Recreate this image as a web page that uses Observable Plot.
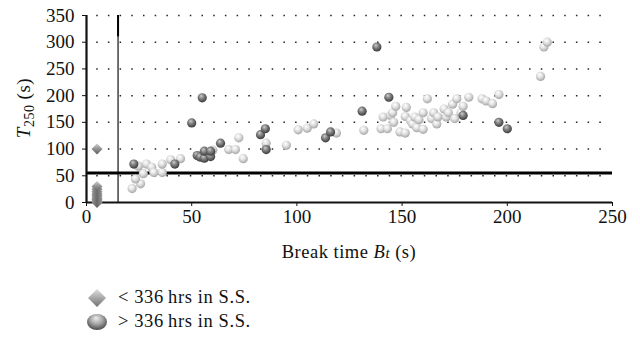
<!DOCTYPE html>
<html>
<head>
<meta charset="utf-8">
<script src="https://cdn.jsdelivr.net/npm/d3@7"></script>
<script src="https://cdn.jsdelivr.net/npm/@observablehq/plot@0.6"></script>
<style>
  body { margin: 0; background: #fff; font-family: "Liberation Serif", "DejaVu Serif", serif; }
  #chart svg { display: block; }
  #legend { position: relative; height: 77px; }
  .item { position: absolute; left: 86px; display: flex; align-items: center; font-size: 18.5px; letter-spacing: 0.6px; color: #111; }
  .item svg { margin-right: 10px; }
</style>
</head>
<body>
<div id="chart"></div>
<div id="legend"></div>
<script>
// Break time Bt (s) vs T250 (s)
// Specimens with < 336 hrs in S.S.
const under336 = [
  [5, 0], [5, 2], [5, 5], [5, 8], [5, 12], [5, 16], [5, 20], [5, 25], [5, 30], [5, 100]
];

// Specimens with > 336 hrs in S.S. (lighter group)
const over336Light = [
  [21.7, 26], [25.7, 35], [23.3, 44], [27, 54], [24.7, 68], [28.5, 72], [31, 66], [32, 56],
  [36, 56], [36, 72], [40, 80], [44.7, 82], [60, 98], [67.6, 99], [70.8, 99], [72.4, 121],
  [74.5, 82], [85.4, 111], [95, 107], [100.6, 136], [104.9, 139], [108, 147], [118.8, 130],
  [131.8, 135], [140, 138], [143, 138], [141, 160], [144.5, 163], [145.5, 168], [146, 150],
  [147, 180], [149, 132], [151.5, 130], [151.5, 161], [152, 178], [154, 153], [155, 147],
  [156, 160], [157, 140], [158, 155], [160, 137], [160, 168], [162, 194], [164, 157],
  [165, 168], [166.5, 147], [167, 160], [170, 175], [171, 160], [172, 168], [174, 184],
  [175, 157], [176, 194], [178, 168], [179, 180], [181.7, 197], [188, 194], [190, 190],
  [193, 185], [196, 202], [215.8, 236], [217.4, 291], [219, 300]
];

// Specimens with > 336 hrs in S.S. (darker group)
const over336Dark = [
  [22.5, 72], [42, 72], [50, 149], [55, 196], [52.6, 88], [54, 85], [56, 83], [56, 96],
  [59, 86], [59, 96], [63.7, 111], [82.7, 127], [85, 138], [85.4, 99], [113.6, 121],
  [116, 132], [131, 171], [138, 291], [143.7, 197], [179, 163], [196, 150], [200, 138]
];

const xTicks = [0, 50, 100, 150, 200, 250];
const yTicks = [0, 50, 100, 150, 200, 250, 300, 350];
const breakLimit = 15;   // vertical reference line (s)
const t250Limit = 55;    // horizontal reference line (s)

const plot = Plot.plot({
  width: 640,
  height: 268,
  marginLeft: 86,
  marginRight: 28,
  marginTop: 15,
  marginBottom: 66,
  x: { domain: [0, 250], ticks: xTicks, tickSize: 4, tickPadding: 3, label: null },
  y: { domain: [0, 350], ticks: yTicks, tickSize: 4, tickPadding: 8, label: null },
  style: { fontFamily: "Liberation Serif, serif", fontSize: "19px", color: "#111", background: "#fff" },
  marks: [
    Plot.ruleY(yTicks.filter(d => d > 0), {
      x1: 0, x2: 246, stroke: "#222", strokeWidth: 1.5,
      strokeDasharray: "1.5 10.2", strokeDashoffset: -10.2
    }),
    Plot.ruleX([breakLimit], { y1: 0, y2: 350, stroke: "#333", strokeWidth: 1.4 }),
    Plot.ruleX([breakLimit], { y1: 310, y2: 350, stroke: "#000", strokeWidth: 2 }),
    Plot.ruleY([t250Limit], { stroke: "#000", strokeWidth: 3 }),
    Plot.ruleX([0], { stroke: "#111", strokeWidth: 2.2 }),
    Plot.ruleY([0], { stroke: "#111", strokeWidth: 2.2 }),
    Plot.dot(under336, { x: d => d[0], y: d => d[1], symbol: "diamond2", r: 5, fill: "url(#diamondFill)", stroke: "none" }),
    Plot.dot(over336Light, { x: d => d[0], y: d => d[1], r: 4.6, fill: "url(#sphereLight)", stroke: "none" }),
    Plot.dot(over336Dark, { x: d => d[0], y: d => d[1], r: 4.6, fill: "url(#sphereDark)", stroke: "none" })
  ]
});

const svg = d3.select(plot);
const defs = svg.insert("defs", ":first-child");
function sphereGradient(id, stops) {
  const g = defs.append("radialGradient").attr("id", id)
    .attr("cx", "45%").attr("cy", "40%").attr("r", "60%")
    .attr("fx", "38%").attr("fy", "30%");
  stops.forEach(([o, c]) => g.append("stop").attr("offset", o).attr("stop-color", c));
}
sphereGradient("sphereLight", [[0, "#ffffff"], [0.45, "#e4e4e4"], [1, "#a6a6a6"]]);
sphereGradient("sphereDark", [[0, "#cfcfcf"], [0.4, "#8a8a8a"], [1, "#3a3a3a"]]);
const dg = defs.append("linearGradient").attr("id", "diamondFill")
  .attr("x1", "0").attr("y1", "0").attr("x2", "0").attr("y2", "1");
[[0, "#d0d0d0"], [0.5, "#909090"], [1, "#5e5e5e"]].forEach(([o, c]) =>
  dg.append("stop").attr("offset", o).attr("stop-color", c));

// Axis titles
const xt = svg.append("text")
  .attr("x", 349).attr("y", 258)
  .attr("text-anchor", "middle").attr("letter-spacing", 0.5)
  .attr("font-family", "Liberation Serif, serif").attr("font-size", 18.5).attr("fill", "#111");
xt.append("tspan").text("Break time ");
xt.append("tspan").attr("font-style", "italic").text("B");
xt.append("tspan").attr("font-style", "italic").attr("font-size", 15).text("t");
xt.append("tspan").text(" (s)");

const yt = svg.append("text")
  .attr("transform", "translate(30,108) rotate(-90)")
  .attr("text-anchor", "middle").attr("letter-spacing", 0.5)
  .attr("font-family", "Liberation Serif, serif").attr("font-size", 19).attr("fill", "#111");
yt.append("tspan").attr("font-style", "italic").text("T");
yt.append("tspan").attr("font-size", 14).attr("dy", 4).text("250");
yt.append("tspan").attr("dy", -4).text(" (s)");

document.getElementById("chart").appendChild(plot);

// Legend
const legendItems = [
  { label: "< 336\u2009hrs in S.S.", shape: "diamond" },
  { label: "> 336\u2009hrs in S.S.", shape: "sphere" }
];
const legend = d3.select("#legend");
legendItems.forEach((item, i) => {
  const row = legend.append("div").attr("class", "item").style("top", (19 + i * 24) + "px");
  const icon = row.append("svg").attr("width", 22).attr("height", 20);
  const idefs = icon.append("defs");
  if (item.shape === "diamond") {
    const g = idefs.append("linearGradient").attr("id", "legDiamond")
      .attr("x1", 0).attr("y1", 0).attr("x2", 0).attr("y2", 1);
    [[0, "#e0e0e0"], [0.5, "#a8a8a8"], [1, "#707070"]].forEach(([o, c]) =>
      g.append("stop").attr("offset", o).attr("stop-color", c));
    icon.append("path").attr("d", "M11,1 L20,10 L11,19 L2,10 Z").attr("fill", "url(#legDiamond)");
  } else {
    const g = idefs.append("radialGradient").attr("id", "legSphere")
      .attr("cx", "50%").attr("cy", "40%").attr("r", "60%").attr("fx", "45%").attr("fy", "25%");
    [[0, "#eeeeee"], [0.5, "#a8a8a8"], [1, "#4a4a4a"]].forEach(([o, c]) =>
      g.append("stop").attr("offset", o).attr("stop-color", c));
    icon.append("ellipse").attr("cx", 11).attr("cy", 10).attr("rx", 10).attr("ry", 8).attr("fill", "url(#legSphere)");
  }
  row.append("span").text(item.label);
});
</script>
</body>
</html>
